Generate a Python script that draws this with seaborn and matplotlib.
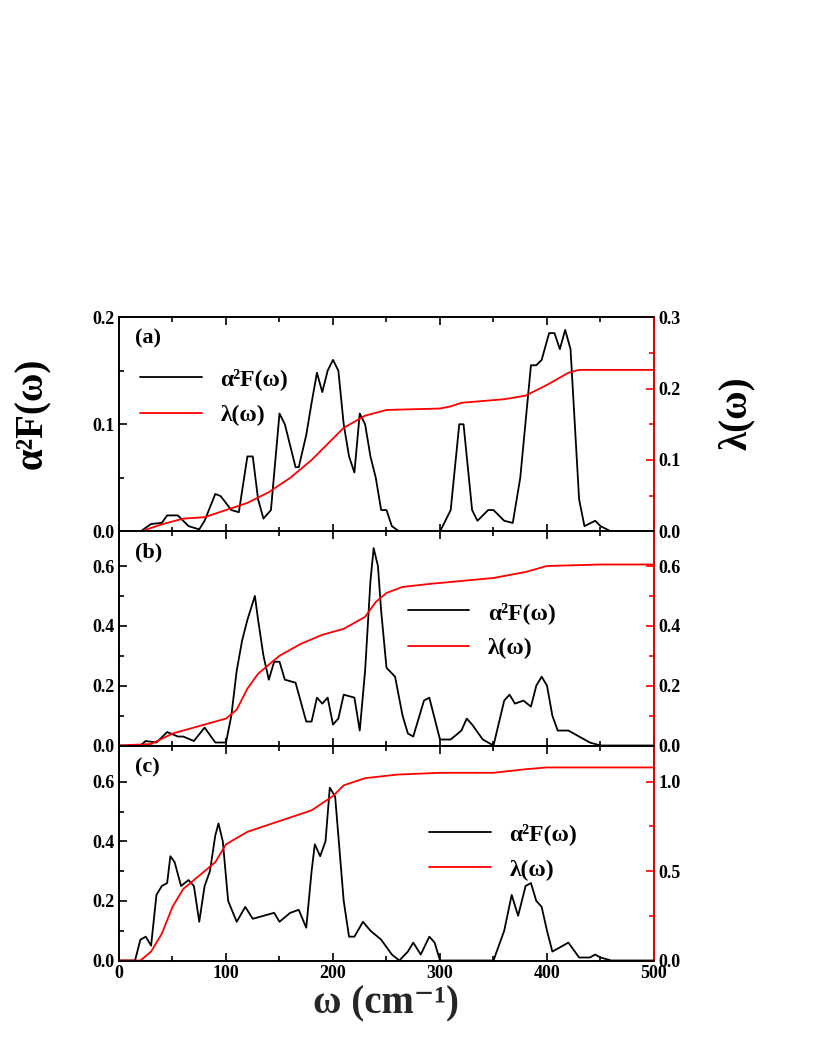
import numpy as np
import matplotlib
matplotlib.use("Agg")
import matplotlib.pyplot as plt
from matplotlib.lines import Line2D
import seaborn as sns

sns.set_style("ticks")
plt.rcParams['font.family'] = ['Liberation Serif', 'DejaVu Serif']
plt.rcParams['font.weight'] = 'bold'
plt.rcParams['text.color'] = 'black'
plt.rcParams['xtick.color'] = 'black'
plt.rcParams['ytick.color'] = 'black'
plt.rcParams['axes.edgecolor'] = 'black'

a_x = [0,20,30,40,45,55,65,75,80,90,95,105,112,120,125,130,135,142,150,155,165,168,175,180,185,190,195,200,205,210,215,220,225,230,235,240,245,250,255,262,300,310,318,322,330,335,345,350,360,368,375,385,390,395,402,407,412,417,422,430,435,445,450,460,500]
a_y = [0,0,0.007,0.008,0.015,0.015,0.005,0.002,0.01,0.035,0.033,0.02,0.018,0.07,0.07,0.03,0.012,0.02,0.11,0.1,0.06,0.06,0.09,0.12,0.148,0.13,0.15,0.16,0.15,0.1,0.07,0.055,0.11,0.1,0.07,0.05,0.02,0.02,0.005,0,0,0.02,0.1,0.1,0.02,0.01,0.02,0.02,0.01,0.008,0.05,0.155,0.155,0.16,0.185,0.185,0.17,0.188,0.17,0.03,0.005,0.01,0.005,0,0]
a_lx = [0,20,40,60,80,100,120,140,160,180,200,210,230,250,300,310,320,360,380,400,420,430,500]
a_ly = [0,0,0.01,0.018,0.02,0.03,0.04,0.055,0.075,0.1,0.13,0.145,0.162,0.17,0.172,0.175,0.18,0.185,0.19,0.205,0.222,0.226,0.226]

b_x = [0,20,25,35,45,55,60,70,80,90,100,105,110,115,120,127,130,135,140,145,150,155,165,175,180,185,190,195,200,205,210,220,225,230,235,238,242,245,250,258,265,270,275,285,290,300,310,320,325,330,340,350,360,365,370,378,385,390,395,400,405,410,420,430,440,450,460,500]
b_y = [0,0,0.015,0.01,0.045,0.03,0.03,0.015,0.06,0.01,0.01,0.1,0.25,0.35,0.42,0.5,0.42,0.3,0.22,0.28,0.28,0.22,0.21,0.08,0.08,0.16,0.14,0.16,0.07,0.09,0.17,0.16,0.05,0.25,0.55,0.66,0.6,0.45,0.26,0.23,0.1,0.04,0.03,0.15,0.16,0.02,0.02,0.05,0.09,0.07,0.02,0.0,0.15,0.17,0.14,0.15,0.13,0.2,0.23,0.2,0.1,0.05,0.05,0.03,0.01,0,0,0]
b_lx = [0,30,50,70,80,100,110,120,130,140,150,170,190,210,220,230,240,250,265,290,320,350,380,400,450,500]
b_ly = [0,0.005,0.04,0.06,0.07,0.09,0.12,0.19,0.24,0.27,0.3,0.34,0.37,0.39,0.41,0.43,0.48,0.51,0.53,0.54,0.55,0.56,0.58,0.6,0.605,0.605]

c_x = [0,15,20,25,30,35,40,45,48,52,58,65,70,75,80,85,90,93,97,102,110,118,125,135,145,150,160,168,175,180,183,188,193,197,202,210,215,220,228,235,245,255,262,270,275,282,290,295,300,350,360,367,373,380,385,390,395,400,405,415,420,430,440,445,450,460,500]
c_y = [0,0,0.07,0.08,0.05,0.22,0.25,0.26,0.35,0.33,0.25,0.27,0.25,0.13,0.25,0.3,0.42,0.46,0.4,0.2,0.13,0.18,0.14,0.15,0.16,0.13,0.16,0.17,0.11,0.3,0.39,0.35,0.4,0.58,0.55,0.2,0.08,0.08,0.13,0.1,0.07,0.02,0,0.03,0.06,0.02,0.08,0.06,0,0,0.1,0.22,0.15,0.25,0.26,0.2,0.18,0.1,0.03,0.05,0.06,0.01,0.01,0.02,0.01,0,0]
c_lx = [0,20,30,40,50,60,80,90,100,120,150,180,200,210,230,260,300,350,380,400,500]
c_ly = [0,0,0.05,0.15,0.3,0.4,0.5,0.55,0.65,0.72,0.78,0.84,0.92,0.98,1.02,1.04,1.05,1.05,1.07,1.08,1.08]

panels = [
    ("(a)", a_x, a_y, a_lx, a_ly, (0, 0.2), [0, 0.1, 0.2], (0, 0.3), [0, 0.1, 0.2, 0.3], (0.0, 0.86)),
    ("(b)", b_x, b_y, b_lx, b_ly, (0, 0.717), [0, 0.2, 0.4, 0.6], (0, 0.717), [0, 0.2, 0.4, 0.6], (0.5, 0.77)),
    ("(c)", c_x, c_y, c_lx, c_ly, (0, 0.72), [0, 0.2, 0.4, 0.6], (0, 1.2), [0, 0.5, 1.0], (0.54, 0.74)),
]

fig = plt.figure(figsize=(8.14, 10.53), dpi=100)
W, H = 814, 1053
tops = [317, 531, 746]
for i, (lab, x, y, lx, ly, ylim, yt, rlim, rt, legpos) in enumerate(panels):
    ax = fig.add_axes([119/W, 1 - (tops[i]+214.5)/H, 535/W, 214.5/H])
    sns.lineplot(x=x, y=y, ax=ax, color='black', lw=1.3, legend=False)
    ax2 = ax.twinx()
    sns.lineplot(x=lx, y=ly, ax=ax2, color='red', lw=1.3, legend=False)
    ax.set_xlim(0, 500); ax.set_ylim(*ylim); ax2.set_ylim(*rlim)
    ax.set_yticks(yt); ax2.set_yticks(rt)
    ax.set_yticklabels([f"{v:.1f}" for v in yt], fontsize=13, fontweight='bold')
    ax2.set_yticklabels([f"{v:.1f}" for v in rt], fontsize=13, fontweight='bold')
    ax.set_xticks([0, 100, 200, 300, 400, 500])
    ax.set_xticks(np.arange(50, 500, 100), minor=True)
    ax.set_yticks(np.array(yt[:-1]) + (yt[1]-yt[0])/2, minor=True)
    ax2.set_yticks(np.array(rt[:-1]) + (rt[1]-rt[0])/2, minor=True)
    ax.tick_params(direction='in', top=True, length=6, width=1.2)
    ax.tick_params(which='minor', direction='in', top=True, length=3.5, width=1.2)
    ax2.tick_params(direction='in', length=6, width=1.2, colors='red', labelcolor='black')
    ax2.tick_params(which='minor', direction='in', length=3.5, width=1.2, colors='red')
    for s in ax.spines.values(): s.set_linewidth(1.2)
    for s in ax2.spines.values(): s.set_linewidth(1.2)
    ax2.spines['right'].set_color('red')
    ax.set_xlabel(''); ax.set_ylabel(''); ax2.set_ylabel('')
    if i < 2:
        ax.set_xticklabels([])
    else:
        ax.set_xticklabels(['0', '100', '200', '300', '400', '500'], fontsize=13, fontweight='bold')
        ax.set_xlabel('ω (cm⁻¹)', fontsize=28, fontweight='bold', labelpad=2)
    ax.text(0.03, 0.9, lab, transform=ax.transAxes, fontsize=16, fontweight='bold', va='center')
    hs = [Line2D([], [], color='black', lw=1.3), Line2D([], [], color='red', lw=1.3)]
    ax.legend(hs, ['α²F(ω)', 'λ(ω)'],
              loc='upper left', bbox_to_anchor=legpos, frameon=False,
              handlelength=2.6, labelspacing=0.6, prop={'weight': 'bold', 'size': 17})

fig.text(0.04, 640/H, 'α²F(ω)', rotation=90, fontsize=28, fontweight='bold', va='center', ha='center')
fig.text(0.905, 640/H, 'λ(ω)', rotation=90, fontsize=28, fontweight='bold', va='center', ha='center')
fig.savefig('out.png', dpi=100)
